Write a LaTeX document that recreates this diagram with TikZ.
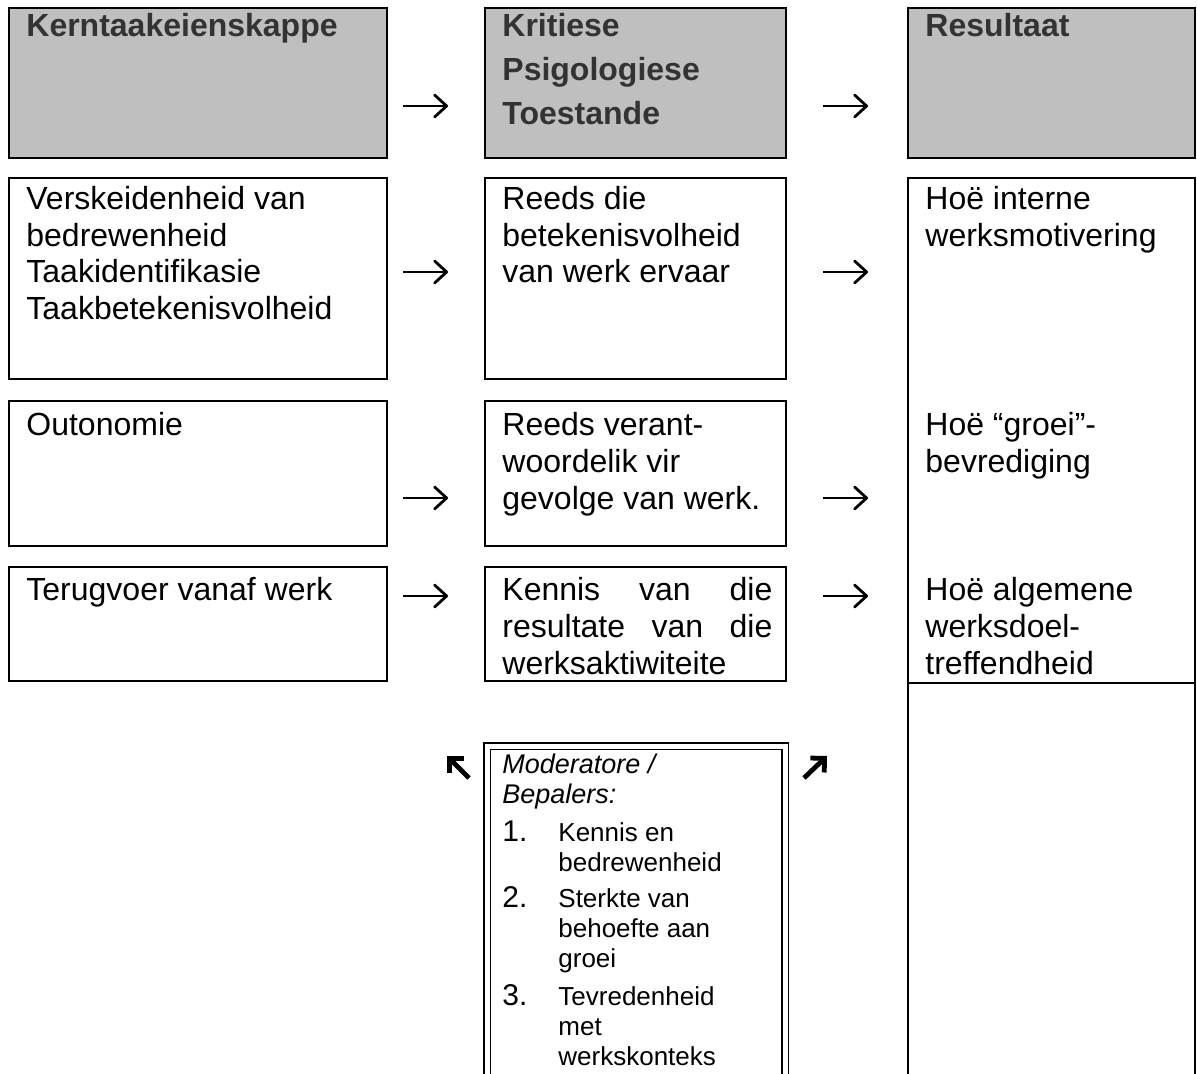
\documentclass[tikz,border=0pt]{standalone}
\usepackage{fontspec}
\setmainfont{Liberation Sans}
\usetikzlibrary{arrows.meta}

\newcommand{\bostut}{\rule{0pt}{15pt}}

\tikzset{
  blok/.style      = {draw, line width=0.9pt},
  kopblok/.style   = {blok, fill=black!25},
  teks/.style      = {anchor=north west, inner sep=0pt, align=left,
                      font=\fontsize{16}{18.4}\selectfont},
  kopteks/.style   = {teks, text=black!80,
                      font=\fontsize{16}{22}\selectfont\bfseries},
  modteks/.style   = {teks, font=\fontsize{13.5}{15}\selectfont\itshape},
  nommer/.style    = {teks, font=\fontsize{15}{15}\selectfont},
  punt/.style      = {teks, font=\fontsize{13}{15}\selectfont},
  pyl/.style       = {-{Straight Barb[length=6pt,width=11pt,round]}, line width=1.4pt},
  skuinspyl/.style = {-{Straight Barb[length=5pt,width=10pt]}, line width=2.4pt}
}

\begin{document}
\begin{tikzpicture}[x=0.5pt, y=-0.5pt]
  \useasboundingbox (0,0) rectangle (1197,1074);
  \clip (0,0) rectangle (1197,1074);

  % koppe
  \draw[kopblok] (9,8)   rectangle (387,158);
  \draw[kopblok] (485,8) rectangle (786,158);
  \draw[kopblok] (908,8) rectangle (1195,158);
  \node[kopteks] (k1) at (26,6)  {\bostut Kerntaakeienskappe};
  \node[kopteks] (k2) at (502,6) {\bostut Kritiese\\Psigologiese\\Toestande};
  \node[kopteks] (k3) at (925,6) {\bostut Resultaat};

  % blokke links en middel
  \draw[blok] (9,178)   rectangle (387,379);
  \draw[blok] (485,178) rectangle (786,379);
  \draw[blok] (9,401)   rectangle (387,546);
  \draw[blok] (485,401) rectangle (786,546);
  \draw[blok] (9,567)   rectangle (387,681);
  \draw[blok] (485,567) rectangle (786,681);

  % regterkolom
  \draw[blok] (908,178) rectangle (1195,1100);
  \draw[blok] (908,683) -- (1195,683);

  \node[teks] (a1) at (26,179)
    {\bostut Verskeidenheid van\\bedrewenheid\\Taakidentifikasie\\Taakbetekenisvolheid};
  \node[teks] (a2) at (26,405) {\bostut Outonomie};
  \node[teks] (a3) at (26,570) {\bostut Terugvoer vanaf werk};

  \node[teks] (b1) at (502,179)
    {\bostut Reeds die\\betekenisvolheid\\van werk ervaar};
  \node[teks] (b2) at (502,405)
    {\bostut Reeds verant-\\woordelik vir\\gevolge van werk.};
  \node[teks] (b3) at (502,570)
    {\bostut\makebox[135pt][s]{Kennis van die}\\
     \makebox[135pt][s]{resultate van die}\\werksaktiwiteite};

  \node[teks] (c1) at (925,179) {\bostut Hoë interne\\werksmotivering};
  \node[teks] (c2) at (925,405) {\bostut Hoë “groei”-\\bevrediging};
  \node[teks] (c3) at (925,570) {\bostut Hoë algemene\\werksdoel-\\treffendheid};

  % moderatore
  \draw[line width=0.7pt, double, double distance=2.5pt]
    (487,746) rectangle (785,1110);
  \node[modteks] (m0) at (502,743) {\bostut Moderatore /\\Bepalers:};
  \node[nommer] (n1) at (502,811) {\bostut 1.};
  \node[nommer] (n2) at (502,877) {\bostut 2.};
  \node[nommer] (n3) at (502,975) {\bostut 3.};
  \node[punt] (m1) at (558,811) {\bostut Kennis en\\bedrewenheid};
  \node[punt] (m2) at (558,877) {\bostut Sterkte van\\behoefte aan\\groei};
  \node[punt] (m3) at (558,975) {\bostut Tevredenheid\\met\\werkskonteks};

  % pyle
  \coordinate (l0) at (403,106);  \coordinate (l0e) at (448,106);
  \coordinate (r0) at (823,106);  \coordinate (r0e) at (868,106);
  \coordinate (l1) at (403,272);  \coordinate (l1e) at (448,272);
  \coordinate (r1) at (823,272);  \coordinate (r1e) at (868,272);
  \coordinate (l2) at (403,498);  \coordinate (l2e) at (448,498);
  \coordinate (r2) at (823,498);  \coordinate (r2e) at (868,498);
  \coordinate (l3) at (403,596);  \coordinate (l3e) at (448,596);
  \coordinate (r3) at (823,596);  \coordinate (r3e) at (868,596);
  \draw[pyl] (l0) -- (l0e);  \draw[pyl] (r0) -- (r0e);
  \draw[pyl] (l1) -- (l1e);  \draw[pyl] (r1) -- (r1e);
  \draw[pyl] (l2) -- (l2e);  \draw[pyl] (r2) -- (r2e);
  \draw[pyl] (l3) -- (l3e);  \draw[pyl] (r3) -- (r3e);

  \coordinate (s1) at (469,778);  \coordinate (s1e) at (447,756);
  \coordinate (s2) at (804,778);  \coordinate (s2e) at (827,756);
  \draw[skuinspyl] (s1) -- (s1e);
  \draw[skuinspyl] (s2) -- (s2e);
\end{tikzpicture}
\end{document}
